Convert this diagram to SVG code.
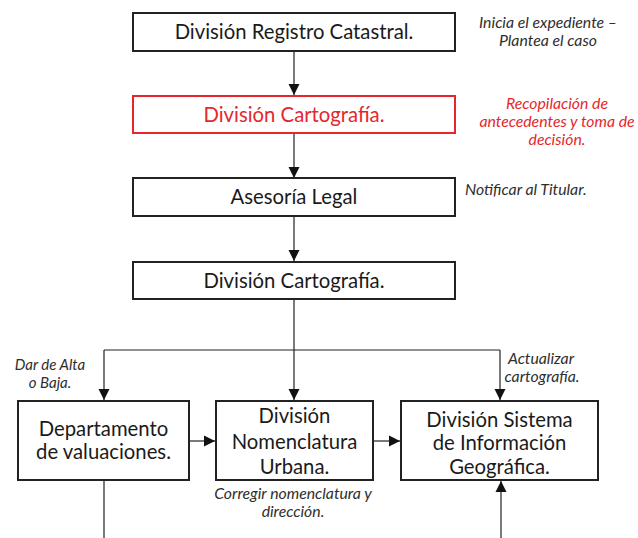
<svg xmlns="http://www.w3.org/2000/svg" width="638" height="538" viewBox="0 0 638 538">
<defs>
<marker id="arr" markerUnits="userSpaceOnUse" markerWidth="12" markerHeight="12" viewBox="0 0 12 12" refX="11" refY="6" orient="auto">
<path d="M0,0.5 L11,6 L0,11.5 Z" fill="#111"/>
</marker>
<style>
.box{fill:#fff;stroke:#222;stroke-width:2}
.red{stroke:#e5272d}
.t{font-family:Lato,"Open Sans",sans-serif;font-size:20.3px;fill:#1a1a1a;text-anchor:middle}
.tr{fill:#e5272d}
.a{font-family:Lato,"Open Sans",sans-serif;font-style:italic;font-size:15.8px;fill:#2e2e2e;text-anchor:middle}
.s{font-size:15px}
.ar{fill:#e5272d}
.c{fill:none;stroke:#222;stroke-width:1.2}
</style>
</defs>
<rect width="638" height="538" fill="#fff"/>
<g id="connectors">
<path class="c" d="M294,51 V95" marker-end="url(#arr)"/>
<path class="c" d="M294,134 V178" marker-end="url(#arr)"/>
<path class="c" d="M294,216 V261" marker-end="url(#arr)"/>
<path class="c" d="M294,299 V400" marker-end="url(#arr)"/>
<path class="c" d="M104,350 H500"/>
<path class="c" d="M104,350 V400" marker-end="url(#arr)"/>
<path class="c" d="M500,350 V400" marker-end="url(#arr)"/>
<path class="c" d="M189,441 H215" marker-end="url(#arr)"/>
<path class="c" d="M373,441 H400" marker-end="url(#arr)"/>
<path class="c" d="M104,481 V538"/>
<path class="c" d="M501,538 V481" marker-end="url(#arr)"/>
</g>
<g id="n1">
<rect class="box" x="133" y="13" width="322" height="38"/>
<text class="t" x="294" y="39">División Registro Catastral.</text>
</g>
<g id="n2">
<rect class="box red" x="133" y="96" width="322" height="37"/>
<text class="t tr" x="294" y="122">División Cartografía.</text>
</g>
<g id="n3">
<rect class="box" x="133" y="178" width="322" height="38"/>
<text class="t" x="294" y="204">Asesoría Legal</text>
</g>
<g id="n4">
<rect class="box" x="133" y="262" width="322" height="37"/>
<text class="t" x="294" y="288">División Cartografía.</text>
</g>
<g id="n5">
<rect class="box" x="18" y="401" width="171" height="79"/>
<text class="t" x="103.5" y="436">Departamento</text>
<text class="t" x="103.5" y="459">de valuaciones.</text>
</g>
<g id="n6">
<rect class="box" x="216" y="401" width="157" height="79"/>
<text class="t" x="294.5" y="423">División</text>
<text class="t" x="294.5" y="449">Nomenclatura</text>
<text class="t" x="294.5" y="474">Urbana.</text>
</g>
<g id="n7">
<rect class="box" x="401" y="401" width="197" height="79"/>
<text class="t" x="499.5" y="427">División Sistema</text>
<text class="t" x="499.5" y="450">de Información</text>
<text class="t" x="499.5" y="474">Geográfica.</text>
</g>
<g id="notes">
<text class="a" x="548" y="28">Inicia el expediente –</text>
<text class="a" x="548" y="46">Plantea el caso</text>
<text class="a ar" x="557" y="109">Recopilación de</text>
<text class="a ar" x="557" y="127">antecedentes y toma de</text>
<text class="a ar" x="557" y="145">decisión.</text>
<text class="a" x="465" y="195" style="text-anchor:start">Notificar al Titular.</text>
<text class="a s" x="50" y="370">Dar de Alta</text>
<text class="a s" x="50" y="388">o Baja.</text>
<text class="a" x="541" y="364">Actualizar</text>
<text class="a" x="542" y="382">cartografía.</text>
<text class="a" x="293" y="499">Corregir nomenclatura y</text>
<text class="a" x="293" y="517">dirección.</text>
</g>
</svg>
